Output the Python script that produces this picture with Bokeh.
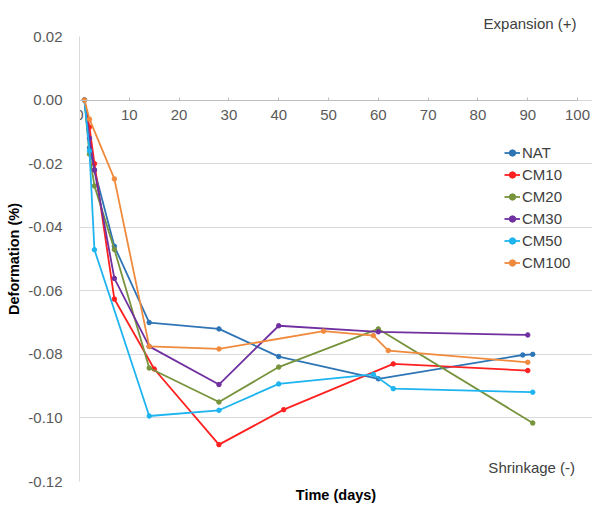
from bokeh.plotting import figure
from bokeh.models import Range1d, Legend, LegendItem, FixedTicker, Title, PrintfTickFormatter, Label
from bokeh.embed import file_html
from bokeh.resources import INLINE

# ---- data ----
nat_days = [1, 2, 3, 7, 14, 28, 40, 60, 89, 91]
nat_vals = [0.0, -0.015, -0.022, -0.046, -0.070, -0.072, -0.0807, -0.0877, -0.0802, -0.0800]

cm10_days = [1, 2, 3, 7, 15, 28, 41, 63, 90]
cm10_vals = [0.0, -0.0085, -0.020, -0.0626, -0.0846, -0.1084, -0.0974, -0.0830, -0.0851]

cm20_days = [1, 2, 3, 7, 14, 28, 40, 60, 91]
cm20_vals = [0.0, -0.017, -0.027, -0.047, -0.0843, -0.0950, -0.0840, -0.0720, -0.1016]

cm30_days = [1, 2, 3, 7, 14, 28, 40, 60, 90]
cm30_vals = [0.0, -0.012, -0.022, -0.0561, -0.0775, -0.0895, -0.0710, -0.0729, -0.0739]

cm50_days = [1, 2, 3, 14, 28, 40, 59, 63, 91]
cm50_vals = [0.0, -0.016, -0.0471, -0.0994, -0.0976, -0.0893, -0.0863, -0.0908, -0.0919]

cm100_days = [1, 2, 7, 14, 28, 49, 59, 62, 90]
cm100_vals = [0.0, -0.006, -0.0248, -0.0775, -0.0783, -0.0727, -0.0741, -0.0788, -0.0825]

series_names = ["NAT", "CM10", "CM20", "CM30", "CM50", "CM100"]
series_colors = ["#2E75B6", "#FF2020", "#77933C", "#7030A0", "#1EB4F0", "#F08A3C"]

x_ticks = [0, 10, 20, 30, 40, 50, 60, 70, 80, 90, 100]
y_ticks = [0.02, 0.0, -0.02, -0.04, -0.06, -0.08, -0.10, -0.12]

FONT = "Liberation Sans"

p = figure(width=592, height=506, output_backend="svg", toolbar_location=None,
           x_range=Range1d(0, 103), y_range=Range1d(-0.12, 0.02),
           min_border_left=79, min_border_right=0, min_border_top=36, min_border_bottom=25)
p.outline_line_color = None
p.background_fill_color = "white"
p.border_fill_color = "white"

# y axis
p.yaxis.ticker = FixedTicker(ticks=y_ticks)
p.yaxis.formatter = PrintfTickFormatter(format="%.2f")
p.yaxis.axis_line_color = "#D9D9D9"
p.yaxis.major_tick_line_color = None
p.yaxis.minor_tick_line_color = None
p.yaxis.major_label_text_font = FONT
p.yaxis.major_label_text_font_size = "15px"
p.yaxis.major_label_text_color = "#595959"
p.yaxis.major_label_standoff = 11
p.yaxis.axis_label = "Deformation (%)"
p.yaxis.axis_label_text_font = FONT
p.yaxis.axis_label_text_font_size = "14.5px"
p.yaxis.axis_label_text_font_style = "bold"
p.yaxis.axis_label_text_color = "#000000"
p.yaxis.axis_label_standoff = 3

# x axis crossing at y = 0
p.xaxis.ticker = FixedTicker(ticks=x_ticks)
p.xaxis.fixed_location = 0
p.xaxis.bounds = (0, 100)
p.xaxis.axis_line_color = "#BFBFBF"
p.xaxis.major_tick_line_color = "#BFBFBF"
p.xaxis.major_tick_in = 3
p.xaxis.major_tick_out = 0
p.xaxis.minor_tick_line_color = None
p.xaxis.major_label_text_font = FONT
p.xaxis.major_label_text_font_size = "15px"
p.xaxis.major_label_text_color = "#595959"
p.xaxis.major_label_standoff = 10

p.xgrid.grid_line_color = None
p.ygrid.ticker = FixedTicker(ticks=y_ticks)
p.ygrid.grid_line_color = "#D9D9D9"

all_days = [nat_days, cm10_days, cm20_days, cm30_days, cm50_days, cm100_days]
all_vals = [nat_vals, cm10_vals, cm20_vals, cm30_vals, cm50_vals, cm100_vals]

items = []
for name, color, d, v in zip(series_names, series_colors, all_days, all_vals):
    r1 = p.line(d, v, line_color=color, line_width=1.8)
    r2 = p.scatter(d, v, size=4.5, fill_color=color, line_color=color)
    items.append(LegendItem(label=name, renderers=[r1, r2]))

legend = Legend(items=items, location=(425, 210), orientation="vertical",
                background_fill_alpha=0, border_line_color=None,
                label_text_font=FONT, label_text_font_size="15px", label_text_color="#404040",
                glyph_width=16, glyph_height=17, label_height=17, spacing=5,
                label_standoff=2, padding=0, margin=0)
p.add_layout(legend)

# "Expansion (+)" above the plot area, right aligned
p.add_layout(Title(text="Expansion (+)", align="right", offset=16, standoff=9,
                   text_font=FONT, text_font_size="15px", text_font_style="normal",
                   text_color="#404040"), "above")

# "Shrinkage (-)" inside the plot area
p.add_layout(Label(x=99.5, y=-0.1155, text="Shrinkage (-)", text_align="right",
                   text_baseline="middle", text_font=FONT, text_font_size="15px",
                   text_color="#404040"))

p.add_layout(Title(text="Time (days)", align="center", standoff=7, text_font=FONT,
                   text_font_size="14.5px", text_font_style="bold",
                   text_color="#000000"), "below")

open("out.html", "w").write(file_html(p, INLINE))
